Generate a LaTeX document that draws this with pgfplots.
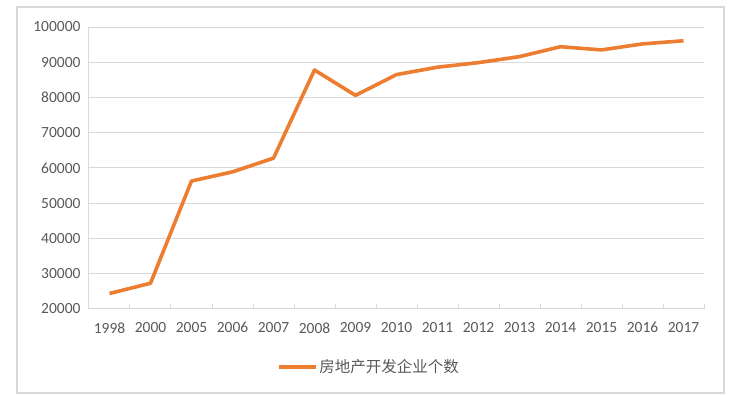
\documentclass[border=0pt]{standalone}
\usepackage{pgfplots}
\pgfplotsset{compat=1.18}
\usepackage{fontspec}
\setmainfont{Carlito}
\newfontfamily\cjk{Noto Sans CJK SC}
\definecolor{lineor}{HTML}{ED7D31}
\definecolor{txtgray}{HTML}{595959}
\definecolor{gridgray}{HTML}{D9D9D9}
\begin{document}
\begin{tikzpicture}
\useasboundingbox (-89pt,-87pt) rectangle (661pt,309pt);
\draw[gridgray, line width=1.2pt] (-72pt,-84pt) rectangle (635pt,302pt);
\begin{axis}[
  at={(0pt,0pt)}, anchor=south west,
  scale only axis, width=615pt, height=282pt,
  xmin=-0.5, xmax=14.5, ymin=20000, ymax=100000,
  xtick={0,...,14},
  xticklabels={1998,2000,2005,2006,2007,2008,2009,2010,2011,2012,2013,2014,2015,2016,2017},
  major x tick style={draw=none},
  minor xtick={-0.5,0.5,...,14.5},
  minor x tick style={gridgray, line width=1pt},
  minor tick length=5pt,
  tick align=inside,
  ytick={20000,30000,40000,50000,60000,70000,80000,90000,100000},
  yticklabels={20000,30000,40000,50000,60000,70000,80000,90000,100000},
  scaled y ticks=false,
  major y tick style={draw=none},
  ymajorgrids, grid style={gridgray, line width=1pt},
  axis line style={gridgray, line width=1pt},
  axis x line*=bottom, axis y line*=left,
  tick label style={font=\fontsize{15.5}{18}\selectfont, text=txtgray},
  xticklabel style={yshift=-10pt},
  yticklabel style={xshift=-5pt},
  legend style={at={(0.455,-0.206)}, anchor=center, draw=none, fill=none,
    font=\cjk\fontsize{15.5}{18}\selectfont, text=txtgray},
  legend image code/.code={\draw[#1] (0pt,0pt) -- (37pt,0pt);},
]
\addplot[lineor, line width=3.6pt, line join=round] coordinates {
(0,24400) (1,27300) (2,56300) (3,58900) (4,62800) (5,87800) (6,80600)
(7,86500) (8,88600) (9,89900) (10,91600) (11,94400) (12,93500) (13,95200) (14,96100)
};
\legend{房地产开发企业个数}
\end{axis}
\end{tikzpicture}
\end{document}
